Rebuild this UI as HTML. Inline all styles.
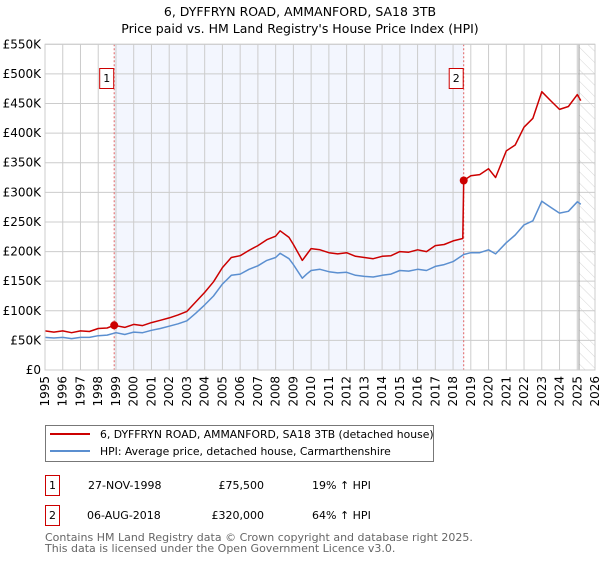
<!DOCTYPE html>
<html><head><meta charset="utf-8"><style>
body{margin:0;background:#fff;font-family:"DejaVu Sans","Liberation Sans",sans-serif;}
svg text{font-family:"DejaVu Sans","Liberation Sans",sans-serif;}
</style></head><body>
<svg id="chart" width="600" height="560" viewBox="0 0 600 560" xmlns="http://www.w3.org/2000/svg">
<defs><pattern id="hatch" width="8" height="8" patternUnits="userSpaceOnUse" patternTransform="rotate(-45)"><line x1="0" y1="0" x2="0" y2="8" stroke="#ccc" stroke-width="0.8"/></pattern></defs>
<text x="300" y="16" text-anchor="middle" font-size="12.5">6, DYFFRYN ROAD, AMMANFORD, SA18 3TB</text>
<text x="300" y="33" text-anchor="middle" font-size="12.5">Price paid vs. HM Land Registry's House Price Index (HPI)</text>
<g id="plot"></g>
<g>
<rect x="45.5" y="425.5" width="388" height="36" fill="#fff" stroke="#777"/>
<line x1="50" y1="434" x2="90" y2="434" stroke="#cc0000" stroke-width="2"/>
<text x="100" y="438" font-size="10.8">6, DYFFRYN ROAD, AMMANFORD, SA18 3TB (detached house)</text>
<line x1="50" y1="451" x2="90" y2="451" stroke="#5b8fd0" stroke-width="2"/>
<text x="100" y="455" font-size="10.8">HPI: Average price, detached house, Carmarthenshire</text>
</g>
<g font-size="11">
<rect x="45.5" y="475.5" width="14" height="20" fill="#fff" stroke="#cc0000"/>
<text x="52.5" y="489" text-anchor="middle">1</text>
<text x="88" y="489">27-NOV-1998</text>
<text x="264" y="489" text-anchor="end">£75,500</text>
<text x="312" y="489">19% ↑ HPI</text>
<rect x="45.5" y="505.5" width="14" height="20" fill="#fff" stroke="#cc0000"/>
<text x="52.5" y="519" text-anchor="middle">2</text>
<text x="87" y="519">06-AUG-2018</text>
<text x="264" y="519" text-anchor="end">£320,000</text>
<text x="312" y="519">64% ↑ HPI</text>
</g>
<text x="45" y="541" font-size="11" fill="#666">Contains HM Land Registry data © Crown copyright and database right 2025.</text>
<text x="45" y="552" font-size="11" fill="#666">This data is licensed under the Open Government Licence v3.0.</text>
</svg>
<script>
const hpiYears=[1995,1995.5,1996,1996.5,1997,1997.5,1998,1998.5,1999,1999.5,2000,2000.5,2001,2001.5,2002,2002.5,2003,2003.5,2004,2004.5,2005,2005.5,2006,2006.5,2007,2007.5,2008,2008.25,2008.75,2009,2009.5,2009.75,2010,2010.5,2011,2011.5,2012,2012.5,2013,2013.5,2014,2014.5,2015,2015.5,2016,2016.5,2017,2017.5,2018,2018.6,2019,2019.5,2020,2020.4,2021,2021.5,2022,2022.5,2023,2023.5,2024,2024.5,2025,2025.2];
const hpiValues=[55,54,55,53,55,55,58,59,63,60,64,63,67,70,74,78,83,96,110,125,145,160,162,170,176,185,190,197,188,178,155,162,168,170,166,164,165,160,158,157,160,162,168,167,170,168,175,178,183,195,198,198,203,196,215,228,245,252,285,275,265,268,284,280];
const priceYears=[1995,1995.5,1996,1996.5,1997,1997.5,1998,1998.5,1998.9,1999.5,2000,2000.5,2001,2001.5,2002,2002.5,2003,2003.5,2004,2004.5,2005,2005.5,2006,2006.5,2007,2007.5,2008,2008.25,2008.75,2009,2009.5,2009.75,2010,2010.5,2011,2011.5,2012,2012.5,2013,2013.5,2014,2014.5,2015,2015.5,2016,2016.5,2017,2017.5,2018,2018.55,2018.6,2019,2019.5,2020,2020.4,2021,2021.5,2022,2022.5,2023,2023.5,2024,2024.5,2025,2025.2];
const priceValues=[66,64,66,63,66,65,70,71,75.5,72,77,75,80,84,88,93,99,115,131,149,173,190,193,202,210,220,226,235,224,212,185,195,205,203,198,196,198,192,190,188,192,193,200,199,203,200,210,212,218,222,320,328,330,340,325,370,380,410,425,470,455,440,445,465,455];
const sales=[{t:1998.9,v:75.5,label:"1"},{t:2018.6,v:320,label:"2"}];
const yTicks=[0,50,100,150,200,250,300,350,400,450,500,550];
const yTickLabels=["£0","£50K","£100K","£150K","£200K","£250K","£300K","£350K","£400K","£450K","£500K","£550K"];
const xTicks=[1995,1996,1997,1998,1999,2000,2001,2002,2003,2004,2005,2006,2007,2008,2009,2010,2011,2012,2013,2014,2015,2016,2017,2018,2019,2020,2021,2022,2023,2024,2025,2026];
const X0=45,X1=595,Y0=370,Y1=44.3;
const x=t=>X0+(t-1995)/31*(X1-X0);
const y=v=>Y0-v/550*(Y0-Y1);
const NS="http://www.w3.org/2000/svg";
const g=document.getElementById('plot');
function mk(tag,attrs){const e=document.createElementNS(NS,tag);for(const k in attrs)e.setAttribute(k,attrs[k]);g.appendChild(e);return e;}
let e;
e=mk('rect',{x:X0,y:Y1,width:X1-X0,height:Y0-Y1,fill:'#fff'});


e=mk('rect',{x:x(sales[0].t),y:Y1,width:x(sales[1].t)-x(sales[0].t),height:Y0-Y1,fill:'#f3f6fe'});


e=mk('rect',{x:x(2025.1),y:Y1,width:X1-x(2025.1),height:Y0-Y1,fill:'url(#hatch)'});


yTicks.forEach((v,i)=>{
 e=mk('line',{x1:X0,x2:X1,y1:y(v),y2:y(v),stroke:'#ccc','stroke-width':1});
 
 
 e=mk('text',{x:X0-4,y:y(v)+4,'text-anchor':'end','font-size':12});
 e.textContent=yTickLabels[i];
 
 
});
xTicks.forEach(t=>{
 e=mk('line',{x1:x(t),x2:x(t),y1:Y1,y2:Y0,stroke:'#ccc','stroke-width':1});
 
 
 e=mk('text',{x:0,y:0,'font-size':12,'text-anchor':'end',transform:`translate(${x(t)+4},${Y0+6}) rotate(-90)`});
 e.textContent=String(t);
 
 
});
e=mk('line',{x1:x(2025.1),x2:x(2025.1),y1:Y1,y2:Y0,stroke:'#999','stroke-width':1});


sales.forEach(s=>{
 e=mk('line',{x1:x(s.t),x2:x(s.t),y1:Y1,y2:Y0,stroke:'#e06060','stroke-width':1,'stroke-dasharray':'2,2'});
 
 
});
function path(xs,vs,color,name){
 const d=xs.map((t,i)=>(i?'L':'M')+x(t).toFixed(1)+','+y(vs[i]).toFixed(1)).join('');
 e=mk('path',{d:d,fill:'none',stroke:color,'stroke-width':1.5,'stroke-linejoin':'round'});
 
 
}
path(hpiYears,hpiValues,'#5b8fd0','hpi-line');
path(priceYears,priceValues,'#cc0000','price-line');
sales.forEach(s=>{
 e=mk('circle',{cx:x(s.t),cy:y(s.v),r:4,fill:'#cc0000'});
 
 
 e=mk('rect',{x:x(s.t)-14.5,y:68.5,width:14,height:20,fill:'#fff',stroke:'#cc0000'});
 
 
 e=mk('text',{x:x(s.t)-7.5,y:82,'text-anchor':'middle','font-size':11});
 e.textContent=s.label;
 
 
});
e=mk('rect',{x:X0,y:Y1,width:X1-X0,height:Y0-Y1,fill:'none',stroke:'#ccc'});


</script>
</body></html>
